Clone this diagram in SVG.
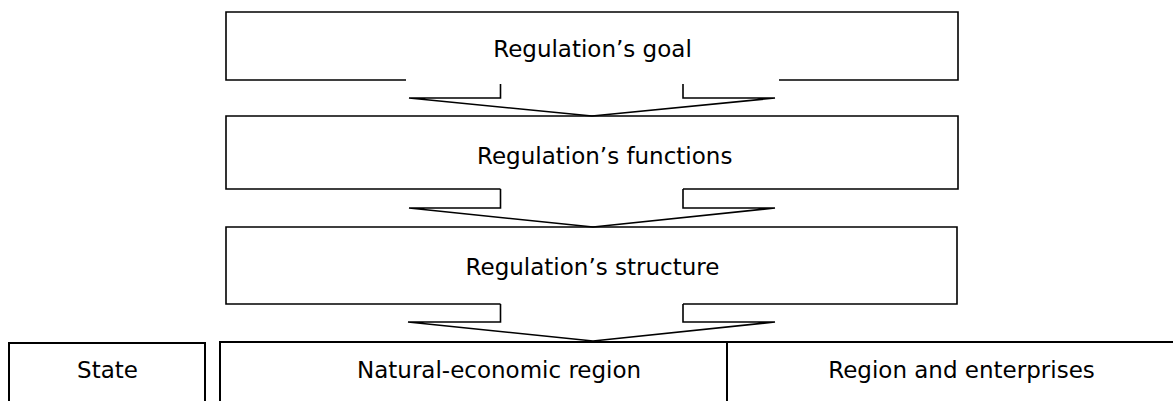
<svg xmlns="http://www.w3.org/2000/svg" width="1173" height="401" viewBox="0 0 1173 401">
<style>
.ln{fill:none;stroke:#000;stroke-width:1.6;stroke-linejoin:miter}
.bx{fill:none;stroke:#000;stroke-width:2}
.t{font-family:"DejaVu Sans",Verdana,sans-serif;font-size:23px;fill:#000}
</style>
<rect width="1173" height="401" fill="#fff"/>
<g id="goal">
<path class="ln" d="M406,80 H226 V12 H958 V80 H779"/>
<text class="t" x="592.5" y="57" text-anchor="middle">Regulation’s goal</text>
</g>
<g id="functions">
<path class="ln" d="M500.5,189 H226 V116 H958 V189 H683"/>
<text class="t" x="477" y="164">Regulation’s functions</text>
</g>
<g id="structure">
<path class="ln" d="M500.5,304 H226 V227 H957 V304 H683"/>
<text class="t" x="592.5" y="275" text-anchor="middle">Regulation’s structure</text>
</g>
<g id="state">
<path class="bx" d="M9,405 V343 H205 V405"/>
<text class="t" x="107.5" y="378" text-anchor="middle">State</text>
</g>
<g id="natural">
<path class="bx" d="M220,405 V342 H727"/>
<text class="t" x="357" y="378">Natural-economic region</text>
</g>
<g id="enterprises">
<path class="bx" d="M727,405 V342 H1180"/>
<text class="t" x="961.5" y="378" text-anchor="middle">Region and enterprises</text>
</g>
<g id="connectors">
<path class="ln" d="M500.5,84 V98 H409 L592,116 L775,98 H683 V84"/>
<path class="ln" d="M500.5,189 V208 H409 L593,227 L775,208 H683 V189"/>
<path class="ln" d="M500.5,304 V322 H408 L593,341 L775,322 H683 V304"/>
</g>
</svg>
